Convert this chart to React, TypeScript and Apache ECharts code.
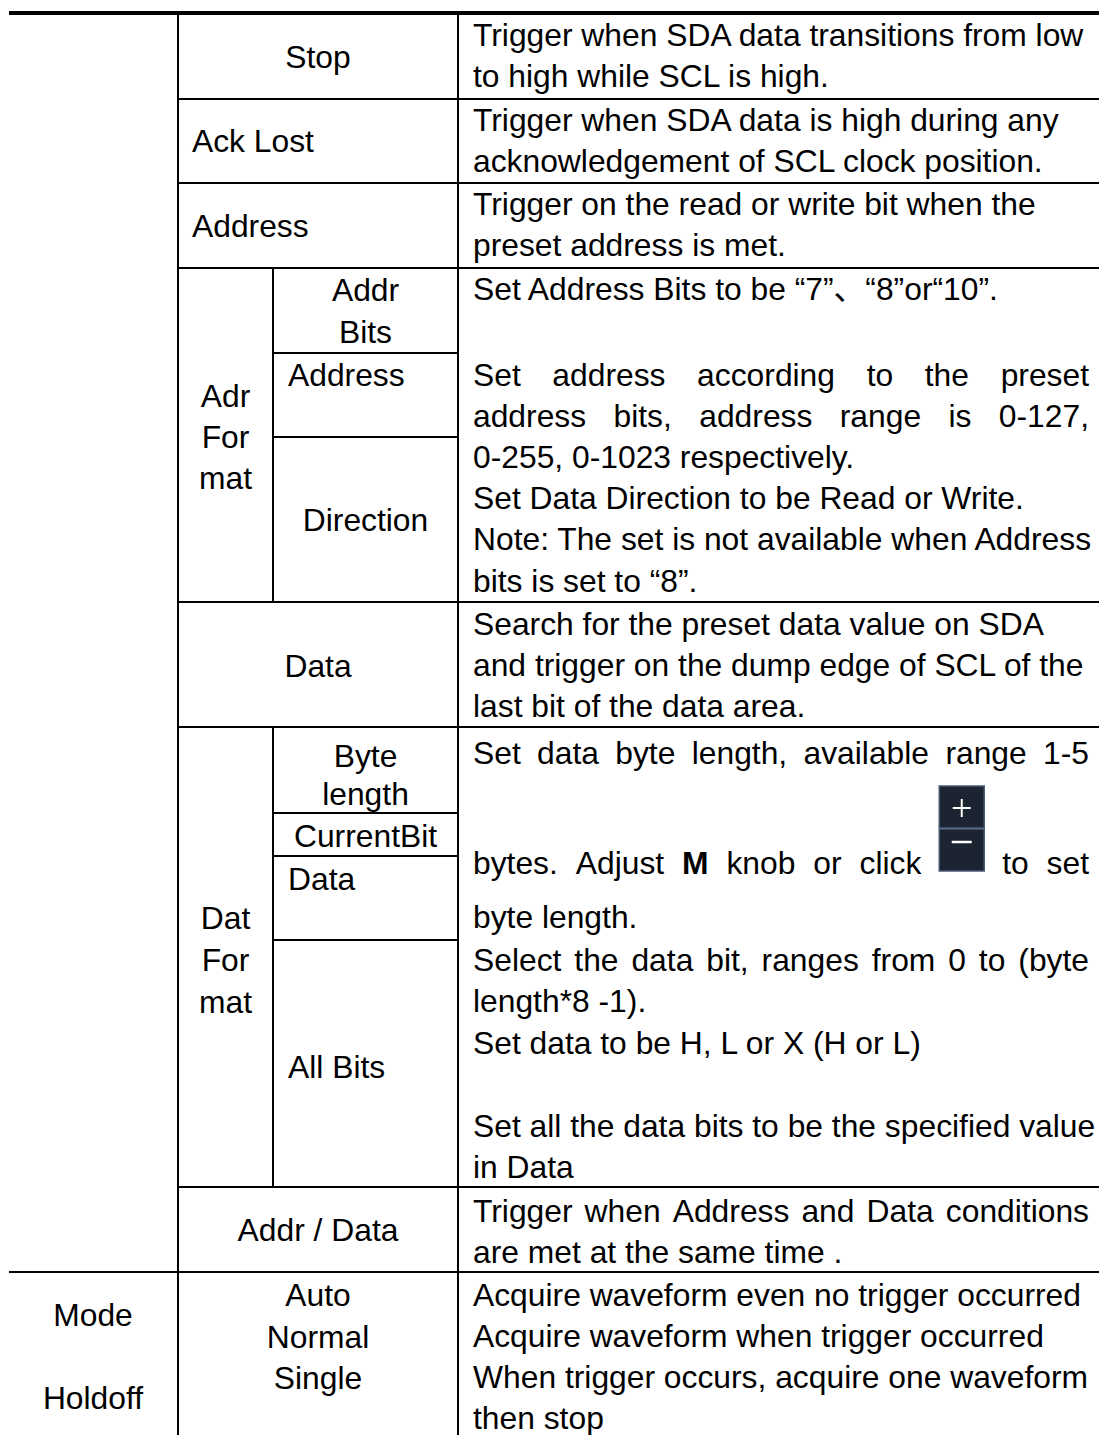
import React, { useEffect, useRef } from "react";
import * as echarts from "echarts";

// ---------- table text ----------
const modeLabels = ["Mode", "Holdoff"];
const optionLabels = ["Stop", "Ack Lost", "Address", "Data", "Addr / Data"];
const adrFormatLabel = ["Adr", "For", "mat"];
const adrFormatItems = ["Addr", "Bits", "Address", "Direction"];
const datFormatLabel = ["Dat", "For", "mat"];
const datFormatItems = ["Byte", "length", "CurrentBit", "Data", "All Bits"];
const modeItems = ["Auto", "Normal", "Single"];

const stopDesc = ["Trigger when SDA data transitions from low", "to high while SCL is high."];
const ackLostDesc = ["Trigger when SDA data is high during any", "acknowledgement of SCL clock position."];
const addressDesc = ["Trigger on the read or write bit when the", "preset address is met."];
const adrFormatDesc = [
  "Set Address Bits to be “7”、“8”or“10”.",
  "Set address according to the preset",
  "address bits, address range is 0-127,",
  "0-255, 0-1023 respectively.",
  "Set Data Direction to be Read or Write.",
  "Note: The set is not available when Address",
  "bits is set to “8”.",
];
const dataDesc = [
  "Search for the preset data value on SDA",
  "and trigger on the dump edge of SCL of the",
  "last bit of the data area.",
];
const datFormatDesc = [
  "Set data byte length, available range 1-5",
  "bytes. Adjust **M** knob or click [+-] to set",
  "byte length.",
  "Select the data bit, ranges from 0 to (byte",
  "length*8 -1).",
  "Set data to be H, L or X (H or L)",
  "Set all the data bits to be the specified value",
  "in Data",
];
const addrDataDesc = ["Trigger when Address and Data conditions", "are met at the same time ."];
const modeDesc = [
  "Acquire waveform even no trigger occurred",
  "Acquire waveform when trigger occurred",
  "When trigger occurs, acquire one waveform",
  "then stop",
];

// ---------- layout ----------
const FONT = '"Liberation Sans", Arial, "Noto Sans CJK SC", sans-serif';
const FS = 31.8;
const X0 = 9, V1 = 178, V2 = 273, V3 = 458, XR = 1099, H = 1435;
const DX = 473, DR = 1089;

let measureCtx: CanvasRenderingContext2D | null = null;
function measure(t: string, bold = false) {
  if (!measureCtx) measureCtx = document.createElement("canvas").getContext("2d");
  measureCtx!.font = `${bold ? "bold " : ""}${FS}px ${FONT}`;
  return measureCtx!.measureText(t).width;
}

function txt(text: string, x: number, y: number, align = "center", bold = false) {
  return {
    type: "text",
    silent: true,
    x,
    y,
    style: {
      text,
      fill: "#000",
      fontSize: FS,
      fontFamily: FONT,
      fontWeight: bold ? "bold" : "normal",
      align,
      verticalAlign: "middle",
      textAlign: align,
      textVerticalAlign: "middle",
    },
  };
}

function ln(x1: number, y1: number, x2: number, y2: number, w = 2) {
  return { type: "line", silent: true, shape: { x1, y1, x2, y2 }, style: { stroke: "#000", lineWidth: w } };
}

const ICON_W = 45;
function icon(x: number, yTop: number) {
  const h = 42;
  const els: any[] = [];
  els.push({ type: "rect", silent: true, shape: { x, y: yTop, width: ICON_W, height: h }, style: { fill: "#1c2431", stroke: "#4b5b7a", lineWidth: 1.5 } });
  els.push({ type: "rect", silent: true, shape: { x, y: yTop + h + 1, width: ICON_W, height: h }, style: { fill: "#1c2431", stroke: "#4b5b7a", lineWidth: 1.5 } });
  const cx = x + ICON_W / 2;
  els.push({ type: "line", silent: true, shape: { x1: cx - 9, y1: yTop + 22, x2: cx + 9, y2: yTop + 22 }, style: { stroke: "#fff", lineWidth: 2 } });
  els.push({ type: "line", silent: true, shape: { x1: cx, y1: yTop + 13, x2: cx, y2: yTop + 31 }, style: { stroke: "#fff", lineWidth: 2 } });
  els.push({ type: "line", silent: true, shape: { x1: cx - 10, y1: yTop + h + 14, x2: cx + 10, y2: yTop + h + 14 }, style: { stroke: "#fff", lineWidth: 2.5 } });
  return els;
}

function descLine(text: string, y: number, justify: boolean) {
  if (!justify) return [txt(text, DX, y, "left")];
  const tokens = text.split(" ").map((t) => {
    if (t === "[+-]") return { kind: "icon", t, w: ICON_W };
    if (t.startsWith("**")) {
      const s = t.replace(/\*\*/g, "");
      return { kind: "bold", t: s, w: measure(s, true) };
    }
    return { kind: "text", t, w: measure(t) };
  });
  const total = tokens.reduce((a, b) => a + b.w, 0);
  const gap = (DR - DX - total) / (tokens.length - 1);
  const els: any[] = [];
  let x = DX;
  tokens.forEach((tk) => {
    if (tk.kind === "icon") els.push(...icon(x, y - 77));
    else els.push(txt(tk.t, x, y, "left", tk.kind === "bold"));
    x += tk.w + gap;
  });
  return els;
}

function buildElements() {
  const els: any[] = [];
  // grid
  els.push(ln(X0, 13, XR, 13, 4));
  els.push(ln(V1, 15, V1, H));
  els.push(ln(V3, 15, V3, H));
  els.push(ln(V2, 268, V2, 602));
  els.push(ln(V2, 727, V2, 1187));
  [99, 183, 268, 602, 727, 1187].forEach((y) => els.push(ln(V1 - 1, y, XR, y)));
  [353, 437, 813, 856, 940].forEach((y) => els.push(ln(V2 - 1, y, V3 + 1, y)));
  els.push(ln(X0, 1272, XR, 1272));

  // first column
  els.push(txt(modeLabels[0], 93, 1315));
  els.push(txt(modeLabels[1], 93, 1398));

  // second column
  const mid = (V1 + V3) / 2;
  const sub = (V2 + V3) / 2;
  els.push(txt(optionLabels[0], mid, 57));
  els.push(txt(optionLabels[1], 192, 141, "left"));
  els.push(txt(optionLabels[2], 192, 226, "left"));
  els.push(txt(optionLabels[3], mid, 666));
  els.push(txt(optionLabels[4], mid, 1230));
  [396, 437, 478].forEach((y, i) => els.push(txt(adrFormatLabel[i], (V1 + V2) / 2, y)));
  els.push(txt(adrFormatItems[0], sub, 290));
  els.push(txt(adrFormatItems[1], sub, 332));
  els.push(txt(adrFormatItems[2], 288, 375, "left"));
  els.push(txt(adrFormatItems[3], sub, 520));
  [918, 960, 1002].forEach((y, i) => els.push(txt(datFormatLabel[i], (V1 + V2) / 2, y)));
  els.push(txt(datFormatItems[0], sub, 756));
  els.push(txt(datFormatItems[1], sub, 794));
  els.push(txt(datFormatItems[2], sub, 836));
  els.push(txt(datFormatItems[3], 288, 879, "left"));
  els.push(txt(datFormatItems[4], 288, 1067, "left"));
  [1295, 1337, 1378].forEach((y, i) => els.push(txt(modeItems[i], mid, y)));

  // descriptions
  const place = (lines: string[], ys: number[], just: boolean[] = []) =>
    lines.forEach((l, i) => els.push(...descLine(l, ys[i], !!just[i])));
  place(stopDesc, [35, 76]);
  place(ackLostDesc, [120, 161]);
  place(addressDesc, [204, 245]);
  place(adrFormatDesc, [289, 375, 416, 457, 498, 539, 581], [false, true, true]);
  place(dataDesc, [624, 665, 706]);
  place(datFormatDesc, [753, 863, 917, 960, 1001, 1043, 1126, 1167], [true, true, false, true]);
  place(addrDataDesc, [1211, 1252], [true]);
  place(modeDesc, [1295, 1336, 1377, 1418]);
  return els;
}

export default function App() {
  const ref = useRef<HTMLDivElement>(null);
  useEffect(() => {
    if (!ref.current) return;
    const chart = echarts.init(ref.current, null, { renderer: "svg" });
    chart.setOption({
      animation: false,
      backgroundColor: "#fff",
      graphic: { elements: buildElements() },
    });
    return () => chart.dispose();
  }, []);
  return (
    <div
      ref={ref}
      style={{ position: "absolute", left: 0, top: 0, width: 1099, height: 1435, background: "#fff" }}
    />
  );
}
